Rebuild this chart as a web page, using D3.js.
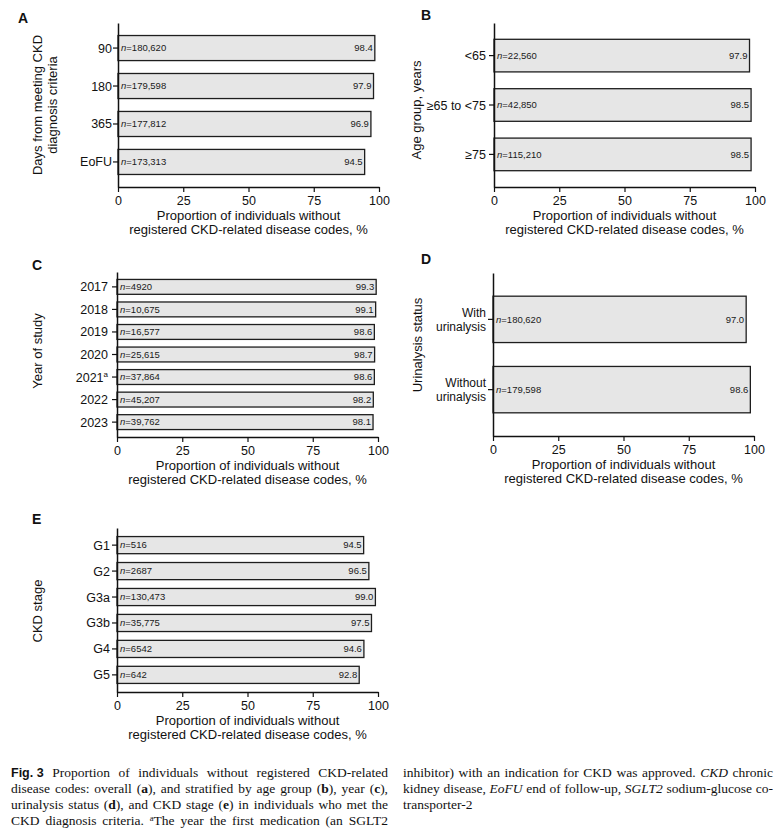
<!DOCTYPE html>
<html><head><meta charset="utf-8">
<script src="https://cdn.jsdelivr.net/npm/d3@7"></script>
<style>
html,body{margin:0;padding:0;background:#fff;}
svg{display:block;}
</style></head>
<body>
<svg id="chart" width="778" height="835"></svg>
<script>
// ---------- DATA ----------
const catsA = ["90", "180", "365", "EoFU"];
const valsA = [98.4, 97.9, 96.9, 94.5];
const nA = ["180,620", "179,598", "177,812", "173,313"];

const catsB = ["<65", "≥65 to <75", "≥75"];
const valsB = [97.9, 98.5, 98.5];
const nB = ["22,560", "42,850", "115,210"];

const catsC = ["2017", "2018", "2019", "2020", "2021", "2022", "2023"];
const valsC = [99.3, 99.1, 98.6, 98.7, 98.6, 98.2, 98.1];
const nC = ["4920", "10,675", "16,577", "25,615", "37,864", "45,207", "39,762"];

const catsD = ["With urinalysis", "Without urinalysis"];
const valsD = [97.0, 98.6];
const nD = ["180,620", "179,598"];

const catsE = ["G1", "G2", "G3a", "G3b", "G4", "G5"];
const valsE = [94.5, 96.5, 99.0, 97.5, 94.6, 92.8];
const nE = ["516", "2687", "130,473", "35,775", "6542", "642"];

const xTicks = [0, 25, 50, 75, 100];
const xTitle = ["Proportion of individuals without", "registered CKD-related disease codes, %"];

// ---------- LAYOUT ----------
const SANS = "'Liberation Sans', Arial, sans-serif";
const SERIF = "'Liberation Serif', 'Times New Roman', serif";
const svg = d3.select("#chart");

const panels = [
  {id:"A", cats:catsA, vals:valsA, ns:nA, ax:118, top:23, bottom:187, lx:18, ly:23,
   ytitle:["Days from meeting CKD","diagnosis criteria"], tx:[42,57], ty:105, pad:1},
  {id:"B", cats:catsB, vals:valsB, ns:nB, ax:494, top:23, bottom:187, lx:421, ly:20,
   ytitle:["Age group, years"], tx:[421], ty:110, pad:3},
  {id:"C", cats:catsC, vals:valsC, ns:nC, ax:117, top:272, bottom:437, lx:32, ly:270,
   ytitle:["Year of study"], tx:[42], ty:351, pad:4, sup:{"2021":"a"}},
  {id:"D", cats:catsD, vals:valsD, ns:nD, ax:493, top:273, bottom:436, lx:421, ly:264,
   ytitle:["Urinalysis status"], tx:[422], ty:345, pad:2, multi:true},
  {id:"E", cats:catsE, vals:valsE, ns:nE, ax:117, top:528, bottom:692, lx:32, ly:524,
   ytitle:["CKD stage"], tx:[42], ty:611, pad:2}
];

panels.forEach(p => {
  const g = svg.append("g");
  const x = d3.scaleLinear().domain([0, 100]).range([p.ax, p.ax + 261]);
  const y = d3.scaleBand().domain(p.cats).range([p.top, p.bottom])
    .paddingInner(0.34).paddingOuter(0.33);

  // bars
  g.selectAll("rect.bar").data(p.cats).join("rect")
    .attr("class", "bar")
    .attr("x", x(0))
    .attr("y", d => y(d))
    .attr("width", (d, i) => x(p.vals[i]) - x(0))
    .attr("height", y.bandwidth())
    .attr("fill", "#e6e6e6")
    .attr("stroke", "#1e1e1e")
    .attr("stroke-width", 1.3);

  // n labels
  g.selectAll("text.n").data(p.cats).join("text")
    .attr("class", "n")
    .attr("x", x(0) + 3)
    .attr("y", d => y(d) + y.bandwidth() / 2 + 3.3)
    .attr("font-family", SANS).attr("font-size", 9.5).attr("fill", "#1a1a1a")
    .each(function(d, i) {
      const t = d3.select(this);
      t.append("tspan").attr("font-style", "italic").text("n");
      t.append("tspan").text("=" + p.ns[i]);
    });

  // value labels
  g.selectAll("text.v").data(p.cats).join("text")
    .attr("class", "v")
    .attr("x", (d, i) => x(p.vals[i]) - 2)
    .attr("y", d => y(d) + y.bandwidth() / 2 + 3.3)
    .attr("text-anchor", "end")
    .attr("font-family", SANS).attr("font-size", 9.5).attr("fill", "#1a1a1a")
    .text((d, i) => p.vals[i].toFixed(1));

  // x axis
  const xa = g.append("g").attr("transform", `translate(0,${p.bottom})`)
    .call(d3.axisBottom(x).tickValues(xTicks).tickSize(5).tickSizeOuter(0).tickPadding(4));
  // y axis
  const ya = g.append("g").attr("transform", `translate(${p.ax},0)`)
    .call(d3.axisLeft(y).tickSize(5).tickSizeOuter(0).tickPadding(p.pad));

  [xa, ya].forEach(a => {
    a.select(".domain").attr("stroke", "#111").attr("stroke-width", 1.5);
    a.selectAll(".tick line").attr("stroke", "#111").attr("stroke-width", 1.2);
    a.selectAll(".tick text").attr("font-family", SANS).attr("font-size", 12.5).attr("fill", "#111");
  });
  xa.selectAll(".tick text").attr("dy", null).attr("y", 18);

  ya.selectAll(".tick text").each(function(d) {
    const t = d3.select(this);
    if (p.multi) {
      const parts = d.split(" ");
      t.text(null).attr("dy", null).attr("y", 0).attr("font-size", 12);
      parts.forEach((w, k) => {
        t.append("tspan").attr("x", -5 - p.pad).attr("y", -2.5 + k * 13.8).text(w);
      });
    } else {
      t.attr("dy", "0.36em");
      if (p.sup && p.sup[d]) {
        t.append("tspan").attr("font-size", 8).attr("dy", "-0.55em").text(p.sup[d]);
      }
    }
  });

  // x title
  xTitle.forEach((line, k) => {
    g.append("text")
      .attr("x", p.ax + 261 / 2)
      .attr("y", p.bottom + 33 + k * 14)
      .attr("text-anchor", "middle")
      .attr("font-family", SANS).attr("font-size", 13).attr("fill", "#111")
      .text(line);
  });

  // y title
  p.ytitle.forEach((line, k) => {
    g.append("text")
      .attr("transform", `translate(${p.tx[k]},${p.ty}) rotate(-90)`)
      .attr("text-anchor", "middle")
      .attr("font-family", SANS).attr("font-size", 13).attr("fill", "#111")
      .text(line);
  });

  // panel letter
  g.append("text").attr("x", p.lx).attr("y", p.ly)
    .attr("font-family", SANS).attr("font-weight", "bold").attr("font-size", 14)
    .attr("fill", "#111").text(p.id);
});

// ---------- CAPTION ----------
// each line: array of words; each word: array of [text, style]
const capLeft = [
  [[["Fig. 3","fig"]],[["Proportion",""]],[["of",""]],[["individuals",""]],[["without",""]],[["registered",""]],[["CKD-related",""]]],
  [[["disease",""]],[["codes:",""]],[["overall",""]],[["(",""],["a","b"],["),",""]],[["and",""]],[["stratified",""]],[["by",""]],[["age",""]],[["group",""]],[["(",""],["b","b"],["),",""]],[["year",""]],[["(",""],["c","b"],["),",""]]],
  [[["urinalysis",""]],[["status",""]],[["(",""],["d","b"],["),",""]],[["and",""]],[["CKD",""]],[["stage",""]],[["(",""],["e","b"],[")",""]],[["in",""]],[["individuals",""]],[["who",""]],[["met",""]],[["the",""]]],
  [[["CKD",""]],[["diagnosis",""]],[["criteria.",""]],[["a","sup"],["The",""]],[["year",""]],[["the",""]],[["first",""]],[["medication",""]],[["(an",""]],[["SGLT2",""]]]
];
const capRight = [
  [[["inhibitor)",""]],[["with",""]],[["an",""]],[["indication",""]],[["for",""]],[["CKD",""]],[["was",""]],[["approved.",""]],[["CKD","i"]],[["chronic",""]]],
  [[["kidney",""]],[["disease,",""]],[["EoFU","i"]],[["end",""]],[["of",""]],[["follow-up,",""]],[["SGLT2","i"]],[["sodium-glucose",""]],[["co-",""]]],
  [[["transporter-2",""]]]
];

const CAP_SIZE = 13.5;
function styleRun(ts, st) {
  ts.attr("font-family", st === "fig" ? SANS : SERIF);
  if (st === "fig") ts.attr("font-weight", "bold").attr("font-size", 12.5);
  if (st === "b") ts.attr("font-weight", "bold");
  if (st === "i") ts.attr("font-style", "italic");
  if (st === "sup") ts.attr("font-size", 8.5).attr("baseline-shift", "4");
}

function drawWord(x, yy, word) {
  const t = svg.append("text").attr("x", x).attr("y", yy)
    .attr("font-family", SERIF).attr("font-size", CAP_SIZE).attr("fill", "#111");
  word.forEach(([s, st]) => {
    const ts = t.append("tspan").text(s);
    styleRun(ts, st);
  });
  return t;
}

function drawColumn(lines, x0, x1, y0, lh, lastJustify) {
  lines.forEach((line, li) => {
    const yy = y0 + li * lh;
    const els = line.map(w => drawWord(0, yy, w));
    let widths = els.map(e => e.node().getComputedTextLength());
    let total = d3.sum(widths);
    const justify = li < lines.length - 1 || lastJustify;
    const minGap = 2.5;
    // condense if a line is too long for its column
    const room = x1 - x0 - minGap * (line.length - 1);
    if (total > room) {
      const f = room / total;
      els.forEach((e, k) => e.attr("textLength", widths[k] * f).attr("lengthAdjust", "spacingAndGlyphs"));
      widths = widths.map(w => w * f);
      total = room;
    }
    let gap = (justify && line.length > 1) ? (x1 - x0 - total) / (line.length - 1) : 3.5;
    let cx = x0;
    els.forEach((e, k) => { e.attr("x", cx); cx += widths[k] + gap; });
  });
}

drawColumn(capLeft, 11, 388, 777, 16, true);
drawColumn(capRight, 403, 773, 777, 16, false);
</script>
</body></html>
